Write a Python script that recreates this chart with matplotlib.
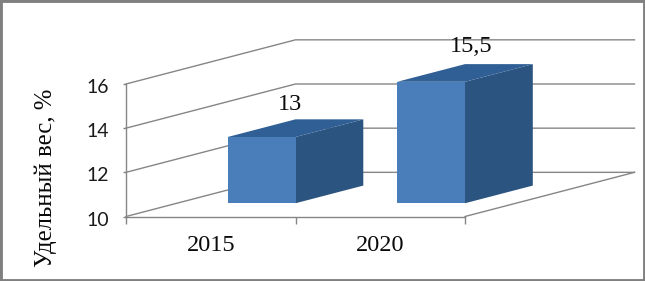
import numpy as np
import matplotlib
matplotlib.use("Agg")
import matplotlib.pyplot as plt
from matplotlib.patches import Polygon, Rectangle
from matplotlib.transforms import ScaledTranslation

categories = ["2015", "2020"]
values = [13, 15.5]
value_labels = ["13", "15,5"]
y_ticks = [10, 12, 14, 16]
y_label = "Удельный вес, %"

# depth of the oblique view, in data units
DX = 1.0
DY = 2.0
FRONT = "#4a7ebb"
TOP = "#2f5f94"
SIDE = "#2c5480"
GRID = "#868686"
TEXT = "#0a0a0a"


def proj(x, y, d):
    return x + d * DX, y + d * DY


def box(ax, x0, x1, top, base=10, d0=0.3, d1=0.7):
    def poly(pts, c, z):
        ax.add_patch(Polygon([proj(*p) for p in pts], closed=True, fc=c, ec="none", zorder=z, clip_on=False))
    poly([(x0, base, d0), (x1, base, d0), (x1, top, d0), (x0, top, d0)], FRONT, 5)
    poly([(x1, base, d0), (x1, base, d1), (x1, top, d1), (x1, top, d0)], SIDE, 4)
    poly([(x0, top, d0), (x1, top, d0), (x1, top, d1), (x0, top, d1)], TOP, 4)


fig = plt.figure(figsize=(6.45, 2.81), dpi=100, facecolor="white")
fig.add_artist(Rectangle((0, 0), 1, 1, transform=fig.transFigure, fc="none", ec="#808080", lw=3.5))

ax = fig.add_axes([126 / 645, (281 - 216.5) / 281, 339 / 645, 132.5 / 281])
ax.set_xlim(0, len(categories))
ax.set_ylim(10, 16)
ax.patch.set_visible(False)
for s in ["top", "right"]:
    ax.spines[s].set_visible(False)
for s in ["left", "bottom"]:
    ax.spines[s].set_color(GRID)
    ax.spines[s].set_linewidth(1.0)

ax.set_yticks(y_ticks)
ax.set_yticklabels([str(t) for t in y_ticks], family="Lato", fontsize=14, color="#1a1a1a")
ax.tick_params(axis="y", length=2.5, width=1.0, color=GRID, pad=10)
shift = ScaledTranslation(0, -2 / 100, fig.dpi_scale_trans)
for lab in ax.get_yticklabels():
    lab.set_transform(lab.get_transform() + shift)
ax.set_xticks(range(len(categories) + 1))
ax.set_xticklabels([])
ax.tick_params(axis="x", length=5, width=1.0, color=GRID)

# wall gridlines, floor edges
for t in y_ticks:
    x0, y0 = proj(0, t, 0)
    x1, y1 = proj(0, t, 1)
    x2, y2 = proj(len(categories), t, 1)
    ax.plot([x0, x1, x2], [y0, y1, y2], color=GRID, lw=1.0, zorder=1, clip_on=False)
x0, y0 = proj(len(categories), 10, 0)
x1, y1 = proj(len(categories), 10, 1)
ax.plot([x0, x1], [y0, y1], color=GRID, lw=1.0, zorder=1, clip_on=False)

label_dx = [-0.03, 0.035]
label_dy = [0.82, 0.95]
for i, (cat, v, lab) in enumerate(zip(categories, values, value_labels)):
    box(ax, i + 0.3, i + 0.7, v)
    ax.text(i + 0.5, 8.7, cat, family="Liberation Serif", fontsize=17.5, ha="center", va="center", color=TEXT)
    tx, ty = proj(i + 0.5, v, 0.5)
    ax.text(tx + label_dx[i], ty + label_dy[i], lab, family="Liberation Serif", fontsize=17.5, ha="center",
            va="baseline", color=TEXT, zorder=8, clip_on=False)

fig.text(46 / 645, 1 - 178 / 281, y_label, family="Liberation Serif", fontsize=17.8, rotation=90,
         ha="center", va="center", color=TEXT)

fig.savefig("out.png", dpi=100)
